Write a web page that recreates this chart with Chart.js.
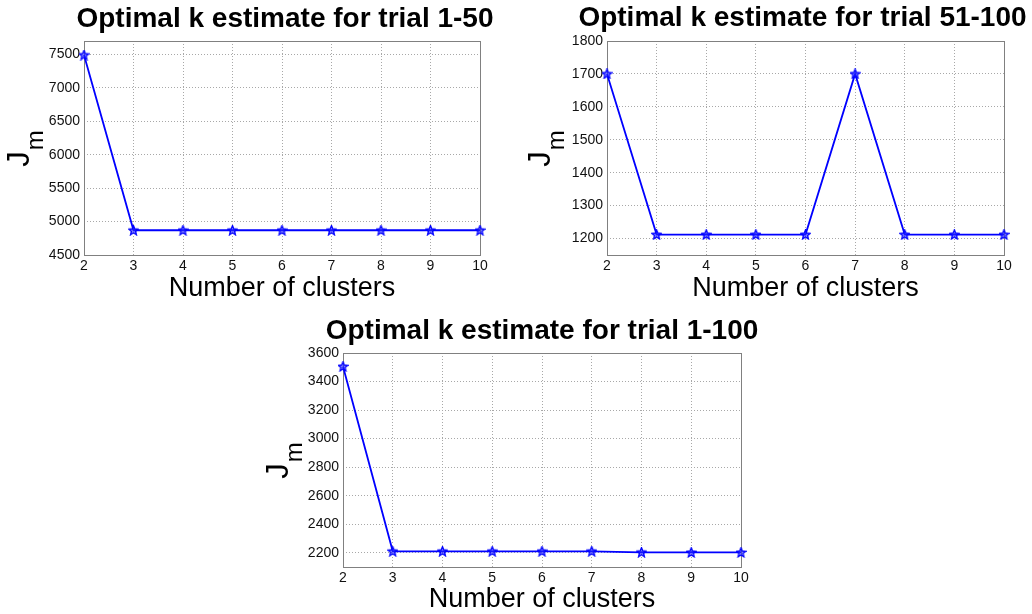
<!DOCTYPE html>
<html>
<head>
<meta charset="utf-8">
<script src="https://cdn.jsdelivr.net/npm/chart.js@4.4.1/dist/chart.umd.min.js"></script>
<style>
  html, body { margin: 0; padding: 0; background: #fff; }
  body { width: 1032px; height: 614px; position: relative; overflow: hidden; }
  canvas { position: absolute; }
</style>
</head>
<body>
<canvas id="c1" width="500" height="305" style="left:0;top:0"></canvas>
<canvas id="c2" width="512" height="305" style="left:520px;top:0"></canvas>
<canvas id="c3" width="520" height="304" style="left:255px;top:310px"></canvas>
<script>
const clusters = ["2", "3", "4", "5", "6", "7", "8", "9", "10"];

const jm1to50 = [7490, 4870, 4870, 4870, 4870, 4870, 4870, 4870, 4870];
const jm51to100 = [1700, 1212, 1212, 1212, 1212, 1700, 1212, 1212, 1212];
const jm1to100 = [3505, 2210, 2210, 2210, 2210, 2210, 2203, 2202, 2202];

const yTicks1 = [4500, 5000, 5500, 6000, 6500, 7000, 7500];
const yTicks2 = [1200, 1300, 1400, 1500, 1600, 1700, 1800];
const yTicks3 = [2200, 2400, 2600, 2800, 3000, 3200, 3400, 3600];

const FONT = "'Liberation Sans', Arial, Helvetica, sans-serif";

// pentagram marker, like matlab 'p'
function starMarker() {
  const c = document.createElement("canvas");
  c.width = 11; c.height = 11;
  const g = c.getContext("2d");
  g.beginPath();
  for (let i = 0; i < 10; i++) {
    const r = i % 2 === 0 ? 5 : 2.2;
    const a = -Math.PI / 2 + i * Math.PI / 5;
    const px = 5.5 + r * Math.cos(a), py = 5.8 + r * Math.sin(a);
    if (i === 0) g.moveTo(px, py); else g.lineTo(px, py);
  }
  g.closePath();
  g.fillStyle = "rgba(40,40,255,0.55)";
  g.fill();
  g.strokeStyle = "#0000ff";
  g.lineWidth = 1.3;
  g.stroke();
  return c;
}
const marker = starMarker();

const panelText = {
  id: "panelText",
  beforeDatasetsDraw(chart) {
    const a = chart.chartArea, ctx = chart.ctx;
    ctx.save();
    ctx.strokeStyle = "#808080";
    ctx.lineWidth = 1;
    ctx.strokeRect(Math.round(a.left) + 0.5, Math.round(a.top) + 0.5,
      Math.round(a.right - a.left), Math.round(a.bottom - a.top));
    ctx.restore();
  },
  afterDraw(chart, args, opts) {
    const a = chart.chartArea, ctx = chart.ctx;
    ctx.save();
    ctx.fillStyle = "#000";
    ctx.font = "bold 28px " + FONT;
    ctx.textAlign = "center";
    ctx.textBaseline = "alphabetic";
    ctx.fillText(opts.title, (a.left + a.right) / 2 + opts.titleShift, opts.titleBase);

    // J with subscript m, rotated
    ctx.translate(a.left - opts.jGap, (a.top + a.bottom) / 2 + 1);
    ctx.rotate(-Math.PI / 2);
    ctx.textAlign = "left";
    ctx.font = "31px " + FONT;
    const wJ = ctx.measureText("J").width;
    ctx.font = "24px " + FONT;
    const wm = ctx.measureText("m").width;
    const x0 = -(wJ + wm) / 2;
    ctx.font = "31px " + FONT;
    ctx.fillText("J", x0, 0);
    ctx.font = "24px " + FONT;
    ctx.fillText("m", x0 + wJ + 1, 14);
    ctx.restore();
  }
};

function makePanel(id, title, values, yMin, yMax, yTicks, box) {
  new Chart(document.getElementById(id), {
    type: "line",
    data: {
      labels: clusters,
      datasets: [{
        data: values,
        borderColor: "#0000ff",
        borderWidth: 1.8,
        pointStyle: marker,
        pointRadius: 5,
        tension: 0,
        clip: false
      }]
    },
    options: {
      responsive: false,
      animation: false,
      layout: { padding: { top: box.top, right: box.right, left: 0, bottom: 0 } },
      plugins: {
        legend: { display: false },
        tooltip: { enabled: false },
        panelText: { title: title, titleBase: box.titleBase, titleShift: box.titleShift, jGap: box.jGap }
      },
      scales: {
        x: {
          offset: false,
          grid: { color: "#a8a8a8", lineWidth: 1, drawTicks: false },
          border: { display: false, dash: [1, 2] },
          ticks: { color: "#111", padding: 3, font: { family: FONT, size: 14 }, maxRotation: 0 },
          title: {
            display: true, text: "Number of clusters", color: "#000",
            font: { family: FONT, size: 27, lineHeight: 1 },
            padding: { top: 0, bottom: box.xTitlePad }
          },
          afterFit: s => { s.height = box.xHeight; }
        },
        y: {
          min: yMin,
          max: yMax,
          grid: { color: "#a8a8a8", lineWidth: 1, drawTicks: false },
          border: { display: false, dash: [1, 2] },
          ticks: { color: "#111", padding: 4, font: { family: FONT, size: 14 }, callback: v => String(v) },
          afterBuildTicks: s => { s.ticks = yTicks.map(v => ({ value: v })); },
          afterFit: s => { s.width = box.yWidth; }
        }
      }
    },
    plugins: [panelText]
  });
}

makePanel("c1", "Optimal k estimate for trial 1-50", jm1to50, 4500, 7700, yTicks1,
  { top: 41, right: 20, yWidth: 84, xHeight: 50, titleBase: 27, titleShift: 3, jGap: 55, xTitlePad: 3 });
makePanel("c2", "Optimal k estimate for trial 51-100", jm51to100, 1150, 1800, yTicks2,
  { top: 41, right: 28, yWidth: 87, xHeight: 50, titleBase: 26, titleShift: -3, jGap: 57, xTitlePad: 3 });
makePanel("c3", "Optimal k estimate for trial 1-100", jm1to100, 2100, 3600, yTicks3,
  { top: 43, right: 34, yWidth: 88, xHeight: 47, titleBase: 29, titleShift: 0, jGap: 55, xTitlePad: 1 });
</script>
</body>
</html>
